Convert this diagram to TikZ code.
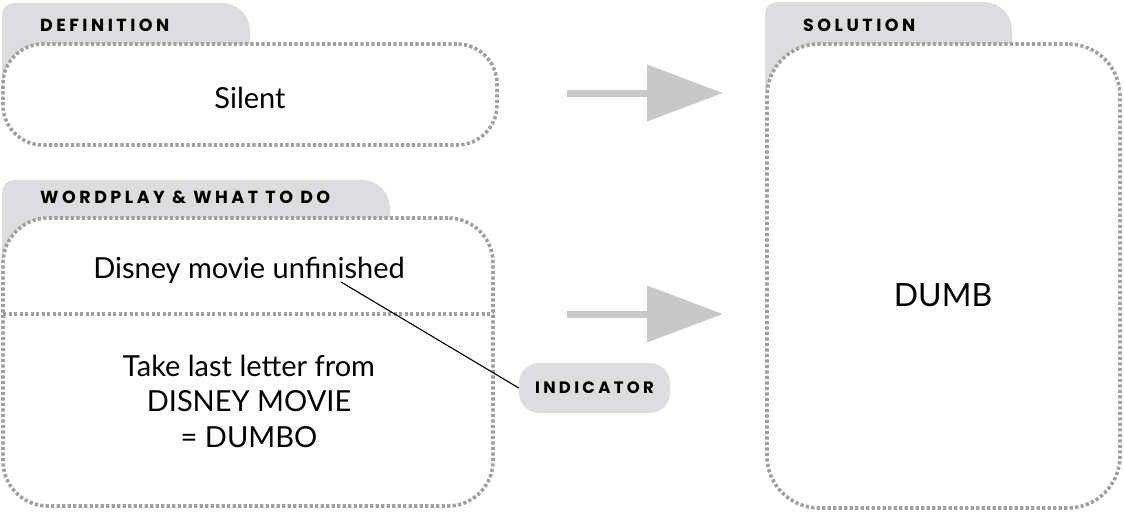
\documentclass[tikz,border=0pt]{standalone}
\usepackage{fontspec}
\setmainfont{Lato}
\newfontfamily\labelfont[LetterSpace=20]{Poppins Bold}
\usetikzlibrary{arrows.meta}
\definecolor{tabgray}{HTML}{DDDDDF}
\definecolor{dotgray}{HTML}{A0A0A0}
\definecolor{arrgray}{HTML}{C8C8C8}
\tikzset{
  dotbox/.style={draw=dotgray, line width=3.6pt, dash pattern=on 3.2pt off 2.3pt, fill=white, rectangle, inner sep=0pt, outer sep=0pt},
  tabtext/.style={anchor=west, inner sep=0pt, font=\labelfont\fontsize{17.5}{19}\selectfont},
  body/.style={inner sep=0pt, font=\fontsize{29}{35.5}\selectfont, align=center},
  bigarrow/.style={draw=arrgray, line width=7pt, -{Triangle[length=76pt, width=55pt]}},
}
\begin{document}
\begin{tikzpicture}[x=1pt, y=-1pt]
\useasboundingbox (0,0) rectangle (1124,515);
% tabs
\fill[tabgray] (2,90) [rounded corners=12pt] -- (2,3) [rounded corners=28pt] -- (250,3) [sharp corners] -- (250,50) -- cycle;
\fill[tabgray] (2,260) [rounded corners=12pt] -- (2,180) [rounded corners=28pt] -- (390,180) [sharp corners] -- (390,225) -- cycle;
\fill[tabgray] (765,90) [rounded corners=12pt] -- (765,2) [rounded corners=28pt] -- (1012,2) [sharp corners] -- (1012,50) -- cycle;
% boxes
\node[dotbox, rounded corners=40pt, minimum width=494pt, minimum height=101pt] (def) at (250,94.5) {};
\node[dotbox, rounded corners=45pt, minimum width=490pt, minimum height=288pt] (wp) at (248,362) {};
\node[dotbox, rounded corners=52pt, minimum width=353pt, minimum height=464pt] (sol) at (943.5,276) {};
% divider
\coordinate (dl) at (3,314);
\coordinate (dr) at (493,314);
\draw[draw=dotgray, line width=3.6pt, dash pattern=on 3.2pt off 2.3pt] (dl) -- (dr);
% tab labels
\node[tabtext] (tdef) at (40,25) {DEFINITION};
\node[tabtext] (twp) at (40,197) {WORDPLAY \& WHAT TO DO};
\node[tabtext] (tsol) at (803,25) {SOLUTION};
% texts
\node[body] (silent) at (250,98) {Silent};
\node[body] (dmu) at (249,270) {Disney movie unfinished};
\node[body] (take) at (249,401) {Take last letter from\\DISNEY MOVIE\\= DUMBO};
\node[body, font=\fontsize{32}{38}\selectfont] (dumb) at (943,295) {DUMB};
% indicator
\node[fill=tabgray, rounded corners=20pt, minimum width=151pt, minimum height=50pt, inner sep=0pt, font=\labelfont\fontsize{16.5}{18}\selectfont] (ind) at (594.5,388) {INDICATOR};
\coordinate (ptr) at (341,282);
\draw[line width=1.1pt] (ptr) -- (ind.west);
% arrows
\coordinate (a1s) at (567,93);
\coordinate (a1e) at (723,93);
\coordinate (a2s) at (567,314);
\coordinate (a2e) at (723,314);
\draw[bigarrow] (a1s) -- (a1e);
\draw[bigarrow] (a2s) -- (a2e);
\end{tikzpicture}
\end{document}
